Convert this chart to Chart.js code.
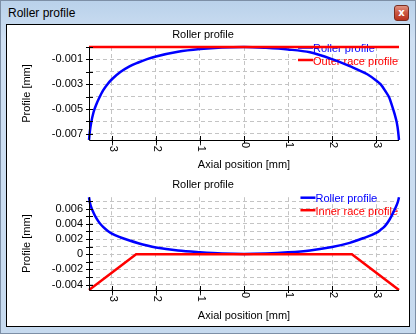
<!DOCTYPE html>
<html>
<head>
<meta charset="utf-8">
<script src="https://cdn.jsdelivr.net/npm/chart.js@4.4.1/dist/chart.umd.min.js"></script>
<style>
  html, body { margin: 0; padding: 0; }
  body {
    width: 416px; height: 334px; overflow: hidden; position: relative;
    box-sizing: border-box; border: 1px solid #7d8fa6;
    background: linear-gradient(to bottom, #b9d1ea 0px, #cfe0f3 40px, #c6daef 334px);
    font-family: "Liberation Sans", Arial, sans-serif;
  }
  #caption { position: absolute; left: 7px; top: 5px; font-size: 12px; color: #000; }
  #close {
    position: absolute; left: 393px; top: 4px; width: 13px; height: 14px;
    border: 1px solid #7a2e22; border-radius: 3px;
    background: linear-gradient(to bottom, #e09282 0%, #cc5a44 45%, #b8321c 100%);
    color: #fff; font: bold 10px "DejaVu Sans", sans-serif; text-align: center; line-height: 14px;
  }
  #panel {
    position: absolute; left: 5px; top: 23px; width: 402px; height: 301px;
    border: 1px solid #000; background: #fff;
  }
  canvas { position: absolute; left: 0; }
  #topChart { top: 0; }
  #bottomChart { top: 147px; }
</style>
</head>
<body>
<div id="caption">Roller profile</div>
<div id="close">x</div>
<div id="panel">
  <canvas id="topChart" width="401" height="147"></canvas>
  <canvas id="bottomChart" width="401" height="154"></canvas>
</div>
<script>
// top chart: roller vs outer race (values in mm)
const axialTop = [-3.52, -3.5, -3.47, -3.42, -3.35, -3.3, -3.2, -3.1, -3.0, -2.8, -2.6, -2.4, -2.2, -2.0, -1.5, -1.0, -0.5, 0,
                  0.5, 1.0, 1.5, 2.0, 2.4, 2.8, 3.0, 3.1, 3.2, 3.3, 3.35, 3.42, 3.47, 3.5, 3.52];
const rollerTop = [-0.0075, -0.0068, -0.0061, -0.0053, -0.0046, -0.0042, -0.0035, -0.0030, -0.0026, -0.0020, -0.00156, -0.00125, -0.00098, -0.00077, -0.00039, -0.00017, -0.00004, 0,
                   -0.00007, -0.0002, -0.00043, -0.00098, -0.00154, -0.0022, -0.0027, -0.0030, -0.0035, -0.0041, -0.0046, -0.0054, -0.0061, -0.0068, -0.0075];
const axialOuter = [-3.52, 3.52];
const outerRace = [0, 0];

// bottom chart: roller vs inner race
const axialBottom = [-3.52, -3.5, -3.47, -3.42, -3.35, -3.28, -3.2, -3.1, -3.0, -2.8, -2.6, -2.4, -2.2, -2.0, -1.5, -1.0, -0.5, 0,
                     0.5, 1.0, 1.5, 2.0, 2.4, 2.7, 3.0, 3.1, 3.2, 3.3, 3.4, 3.47, 3.5, 3.52];
const rollerBottom = [0.0075, 0.0068, 0.0062, 0.0055, 0.0047, 0.0041, 0.0036, 0.0031, 0.0027, 0.0022, 0.0018, 0.00145, 0.00115, 0.0009, 0.0005, 0.00027, 0.0001, 0.00004,
                      0.0001, 0.00025, 0.0005, 0.00095, 0.0015, 0.0021, 0.0028, 0.0032, 0.0037, 0.0045, 0.0056, 0.0065, 0.0070, 0.0075];
const axialInner = [-3.52, -2.45, 2.45, 3.52];
const innerRace = [-0.0047, 0, 0, -0.0047];

// ticks
const xTicks = [-3, -2, -1, 0, 1, 2, 3];
const topYTicks = [-0.007, -0.006, -0.005, -0.004, -0.003, -0.002, -0.001, 0];
const topYLabels = [-0.007, -0.005, -0.003, -0.001];
const bottomYTicks = [-0.004, -0.003, -0.002, -0.001, 0, 0.001, 0.002, 0.003, 0.004, 0.005, 0.006, 0.007];
const bottomYLabels = [-0.004, -0.002, 0, 0.002, 0.004, 0.006];

const FONT = "'Liberation Sans', Arial, sans-serif";
const toPoints = (xs, ys) => xs.map((x, i) => ({ x: x, y: ys[i] }));

// legend inside the plot, axis lines, crossing tick marks, rotated x labels
const profilePlugin = {
  id: 'profileDecor',
  beforeDatasetsDraw(chart) {
    const ctx = chart.ctx, ca = chart.chartArea;
    ctx.save();
    ctx.font = '11px ' + FONT;
    const sets = chart.data.datasets;
    const w = Math.max(...sets.map(d => ctx.measureText(d.label).width));
    const tx = ca.right - w - 1;
    sets.forEach((d, i) => {
      const y = ca.top + 0.5 + i * 12.5;
      ctx.strokeStyle = d.borderColor;
      ctx.lineWidth = 2.5;
      ctx.beginPath();
      ctx.moveTo(tx - 15, y);
      ctx.lineTo(tx, y);
      ctx.stroke();
      ctx.fillStyle = d.borderColor;
      ctx.textAlign = 'left';
      ctx.textBaseline = 'middle';
      ctx.fillText(d.label, tx, y + 1.5);
    });
    ctx.restore();
  },
  afterDatasetsDraw(chart) {
    const ctx = chart.ctx, ca = chart.chartArea;
    const xs = chart.scales.x, ys = chart.scales.y;
    ctx.save();
    ctx.strokeStyle = '#000';
    ctx.lineWidth = 1;
    ctx.beginPath();
    ctx.moveTo(ca.left + 0.5, ca.top);
    ctx.lineTo(ca.left + 0.5, ca.bottom + 0.5);
    ctx.lineTo(ca.right, ca.bottom + 0.5);
    ys.ticks.forEach(t => {
      const py = Math.round(ys.getPixelForValue(t.value)) + 0.5;
      ctx.moveTo(ca.left - 3, py);
      ctx.lineTo(ca.left + 4, py);
    });
    xs.ticks.forEach(t => {
      const px = Math.round(xs.getPixelForValue(t.value)) + 0.5;
      ctx.moveTo(px, ca.bottom - 4);
      ctx.lineTo(px, ca.bottom + 3);
    });
    ctx.stroke();
    ctx.fillStyle = '#000';
    ctx.font = '11px ' + FONT;
    ctx.textAlign = 'left';
    ctx.textBaseline = 'middle';
    xs.ticks.forEach(t => {
      ctx.save();
      ctx.translate(xs.getPixelForValue(t.value) + 1, ca.bottom + 2);
      ctx.rotate(Math.PI / 2);
      ctx.fillText(String(t.value), 0, 0);
      ctx.restore();
    });
    ctx.restore();
  }
};

function makeChart(id, datasets, yMin, yMax, yTicks, yLabels, lay) {
  const ctx = document.getElementById(id).getContext('2d');
  return new Chart(ctx, {
    type: 'line',
    data: { datasets: datasets },
    options: {
      responsive: false,
      animation: false,
      layout: { padding: { left: 0, right: 9, top: 0, bottom: 0 } },
      plugins: {
        legend: { display: false },
        tooltip: { enabled: false },
        title: {
          display: true,
          text: 'Roller profile',
          color: '#000',
          font: { family: FONT, size: 11, weight: 'normal' },
          padding: { top: lay.titleTop, bottom: lay.titleBottom }
        }
      },
      scales: {
        x: {
          type: 'linear',
          min: -3.52,
          max: 3.52,
          afterBuildTicks: (axis) => { axis.ticks = xTicks.map(v => ({ value: v })); },
          afterFit: (scale) => { scale.height = lay.xHeight; },
          ticks: { display: false, autoSkip: false },
          grid: { color: '#c4c4c4', lineWidth: 1, drawTicks: false },
          border: { display: false, dash: [4, 3] },
          title: {
            display: true,
            text: 'Axial position [mm]',
            color: '#000',
            font: { family: FONT, size: 11 },
            padding: { top: 0, bottom: lay.xTitlePad }
          }
        },
        y: {
          type: 'linear',
          min: yMin,
          max: yMax,
          afterBuildTicks: (axis) => { axis.ticks = yTicks.map(v => ({ value: v })); },
          afterFit: (scale) => { scale.width = 82; },
          ticks: {
            autoSkip: false,
            padding: 6,
            color: '#000',
            font: { family: FONT, size: 11 },
            callback: (v) => yLabels.some(l => Math.abs(l - v) < 1e-9) ? String(+v.toFixed(3)) : ''
          },
          grid: { color: '#c4c4c4', lineWidth: 1, drawTicks: false },
          border: { display: false, dash: [4, 3] },
          title: {
            display: true,
            text: 'Profile [mm]',
            color: '#000',
            font: { family: FONT, size: 11 },
            padding: { top: 13.4, bottom: 0 }
          }
        }
      }
    },
    plugins: [profilePlugin]
  });
}

makeChart('topChart', [
  { label: 'Roller profile', data: toPoints(axialTop, rollerTop), borderColor: '#0000ff', borderWidth: 2.5,
    pointRadius: 0, cubicInterpolationMode: 'monotone', clip: false, order: 1 },
  { label: 'Outer race profile', data: toPoints(axialOuter, outerRace), borderColor: '#ff0000', borderWidth: 2.5,
    pointRadius: 0, tension: 0, clip: false, order: 0 }
], -0.0075, 0, topYTicks, topYLabels, { titleTop: 3.4, titleBottom: 5.4, xHeight: 32, xTitlePad: 0 });

makeChart('bottomChart', [
  { label: 'Roller profile', data: toPoints(axialBottom, rollerBottom), borderColor: '#0000ff', borderWidth: 2.5,
    pointRadius: 0, cubicInterpolationMode: 'monotone', clip: false, order: 1 },
  { label: 'Inner race profile', data: toPoints(axialInner, innerRace), borderColor: '#ff0000', borderWidth: 2.5,
    pointRadius: 0, tension: 0, clip: false, order: 0 }
], -0.0047, 0.0075, bottomYTicks, bottomYLabels, { titleTop: 6.4, titleBottom: 5.6, xHeight: 36, xTitlePad: 3.4 });
</script>
</body>
</html>
